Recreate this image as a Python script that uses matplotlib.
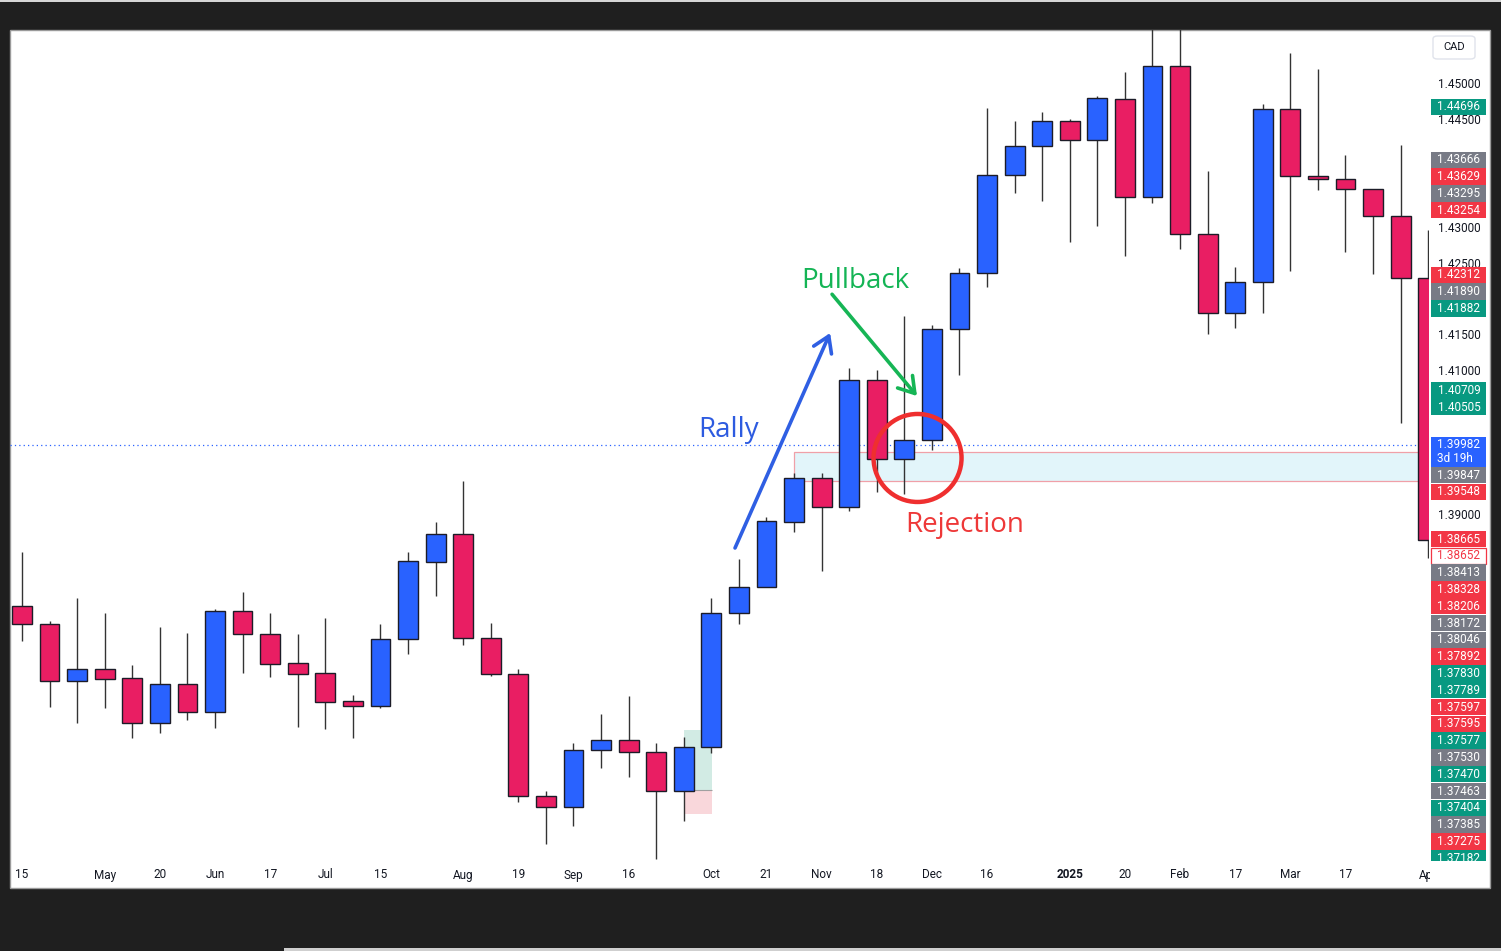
import matplotlib.pyplot as plt
import numpy as np
import pandas as pd
from matplotlib.patches import Rectangle, Ellipse, FancyBboxPatch
from matplotlib.transforms import Bbox, TransformedBbox, blended_transform_factory

# weekly USD/CAD candles, first week starts 2024-04-15
start_week = '2024-04-15'
opens = [1.3773, 1.3748, 1.3668, 1.3685, 1.3673, 1.3610, 1.3664, 1.3625, 1.3766, 1.3734,
         1.3694, 1.3680, 1.3641, 1.3634, 1.3727, 1.3834, 1.3873, 1.3728, 1.3678, 1.3508,
         1.3493, 1.3572, 1.3586, 1.3569, 1.3515, 1.3576, 1.3763, 1.3800, 1.3890, 1.3952,
         1.3911, 1.4088, 1.3978, 1.4005, 1.4160, 1.4238, 1.4374, 1.4415, 1.4450, 1.4423,
         1.4480, 1.4344, 1.4527, 1.4292, 1.4182, 1.4225, 1.4467, 1.4373, 1.4369, 1.4355,
         1.4317, 1.4231]
highs = [1.3848, 1.3752, 1.3784, 1.3763, 1.3691, 1.3744, 1.3735, 1.3769, 1.3793, 1.3763,
         1.3734, 1.3756, 1.3649, 1.3748, 1.3848, 1.3890, 1.3948, 1.3749, 1.3685, 1.3515,
         1.3582, 1.3622, 1.3648, 1.3582, 1.3590, 1.3784, 1.3839, 1.3897, 1.3959, 1.3959,
         1.4105, 1.4102, 1.4178, 1.4165, 1.4245, 1.4468, 1.4450, 1.4462, 1.4453, 1.4485,
         1.4518, 1.4604, 1.4793, 1.4380, 1.4246, 1.4474, 1.4545, 1.4522, 1.4402, 1.4355,
         1.4416, 1.4297]
lows = [1.3724, 1.3632, 1.3610, 1.3631, 1.3589, 1.3596, 1.3614, 1.3603, 1.3680, 1.3674,
        1.3604, 1.3601, 1.3589, 1.3631, 1.3706, 1.3787, 1.3719, 1.3676, 1.3500, 1.3441,
        1.3466, 1.3547, 1.3535, 1.3420, 1.3473, 1.3568, 1.3748, 1.3799, 1.3876, 1.3822,
        1.3906, 1.3932, 1.3929, 1.3991, 1.4095, 1.4218, 1.4349, 1.4338, 1.4281, 1.4303,
        1.4261, 1.4335, 1.4271, 1.4153, 1.4161, 1.4182, 1.4241, 1.4354, 1.4267, 1.4236,
        1.4028, 1.3840]
closes = [1.3748, 1.3668, 1.3685, 1.3671, 1.3610, 1.3664, 1.3625, 1.3766, 1.3734, 1.3692,
          1.3678, 1.3639, 1.3634, 1.3727, 1.3836, 1.3873, 1.3728, 1.3678, 1.3508, 1.3493,
          1.3572, 1.3586, 1.3569, 1.3515, 1.3576, 1.3763, 1.3800, 1.3892, 1.3952, 1.3911,
          1.4088, 1.3978, 1.4005, 1.4160, 1.4238, 1.4374, 1.4415, 1.4450, 1.4423, 1.4482,
          1.4344, 1.4527, 1.4292, 1.4182, 1.4225, 1.4467, 1.4373, 1.4369, 1.4355, 1.4317,
          1.4231, 1.3865]

tick_dates = ['2024-04-15', '2024-05-06', '2024-05-20', '2024-06-03', '2024-06-17', '2024-07-01',
              '2024-07-15', '2024-08-05', '2024-08-19', '2024-09-02', '2024-09-16', '2024-10-07',
              '2024-10-21', '2024-11-04', '2024-11-18', '2024-12-02', '2024-12-16', '2025-01-06',
              '2025-01-20', '2025-02-03', '2025-02-17', '2025-03-03', '2025-03-17', '2025-04-07']
tick_labels = ['15', 'May', '20', 'Jun', '17', 'Jul', '15', 'Aug', '19', 'Sep', '16', 'Oct',
               '21', 'Nov', '18', 'Dec', '16', '2025', '20', 'Feb', '17', 'Mar', '17', 'Apr']

# price scale labels on the right
axis_values = [1.44696, 1.43666, 1.43629, 1.43295, 1.43254, 1.42312, 1.41890, 1.41882,
               1.40709, 1.40505, 1.39847, 1.39548, 1.38665, 1.38652, 1.38413, 1.38328,
               1.38206, 1.38172, 1.38046, 1.37892, 1.37830, 1.37789, 1.37597, 1.37595,
               1.37577, 1.37530, 1.37470, 1.37463, 1.37404, 1.37385, 1.37275, 1.37182]
axis_kinds = ['g', 'n', 'r', 'n', 'r', 'r', 'n', 'g', 'g', 'g', 'n', 'r', 'r', 'w', 'n', 'r',
              'r', 'n', 'n', 'r', 'g', 'g', 'r', 'r', 'g', 'n', 'g', 'n', 'g', 'n', 'r', 'g']
current_price = 1.39982
countdown = '3d 19h'

zone_low, zone_high = 1.3947, 1.3988          # support box
pos_entry, pos_target, pos_stop = 1.3516, 1.3600, 1.3483

BLUE = '#2962ff'
RED = '#e91e63'
kind_colors = {'g': '#089981', 'r': '#f23645', 'n': '#787b86', 'w': 'white'}

W, H = 1501, 951
fig = plt.figure(figsize=(W / 100, H / 100), dpi=100, facecolor='#1f1f1f')


def fx(x):
    return x / W


def fy(y):
    return 1 - y / H


# frame bits
fig.patches.append(Rectangle((0, fy(2)), 1, 2 / H, transform=fig.transFigure,
                             fc='#d6d6d6', ec='none', zorder=-2))
fig.patches.append(Rectangle((fx(284), 0), 1, 3 / H, transform=fig.transFigure,
                             fc='#cfcfcf', ec='none', zorder=-2))
fig.patches.append(Rectangle((fx(10), fy(888)), fx(1490) - fx(10), fy(30) - fy(888),
                             transform=fig.transFigure, fc='white', ec='#9a9a9a', lw=1, zorder=-1))

y_top, y_bot = 1.45767, 1.34173
ax = fig.add_axes([fx(10), fy(861), fx(1429) - fx(10), fy(30) - fy(861)])
ax.set_xlim(-0.435, 51.03)
ax.set_ylim(y_bot, y_top)
ax.axis('off')
ppx = (y_top - y_bot) / 831

# candles
idx = np.arange(len(opens))
o = np.array(opens); c = np.array(closes)
cols = [BLUE if cc >= oo else RED for oo, cc in zip(o, c)]
ax.vlines(idx, lows, highs, color='#333333', lw=1.0, zorder=3)
ax.bar(idx, np.maximum(np.abs(c - o), 0.0002), bottom=np.minimum(o, c), width=0.72,
       color=cols, edgecolor='#1c1c28', linewidth=1.0, zorder=4)

# zone and current price line
ax.add_patch(Rectangle((28, zone_low), 40, zone_high - zone_low, fc='#e2f5fa',
                       ec='#f0a0a8', lw=0.9, zorder=1))
ax.axhline(current_price, color=BLUE, lw=0.9, ls=(0, (1, 2.5)), zorder=2)

# long position tool
ax.add_patch(Rectangle((24, pos_entry), 1.03, pos_target - pos_entry, fc='#d2ebe4', ec='none', zorder=1))
ax.add_patch(Rectangle((24, pos_stop), 1.03, pos_entry - pos_stop, fc='#f9d7db', ec='none', zorder=1))
ax.hlines(pos_entry, 24, 25.03, color='#a0a0a0', lw=0.8, zorder=1)

# annotations
ax.annotate('', xy=(29.31, 1.4154), xytext=(25.86, 1.3854),
            arrowprops=dict(arrowstyle='->,head_length=0.55,head_width=0.35', color='#2f5fe3',
                            lw=2.6, mutation_scale=20, shrinkA=0, shrinkB=0), zorder=6)
ax.annotate('', xy=(32.46, 1.4066), xytext=(29.38, 1.4208),
            arrowprops=dict(arrowstyle='->,head_length=0.55,head_width=0.35', color='#16b555',
                            lw=2.6, mutation_scale=20, shrinkA=0, shrinkB=0), zorder=6)
ax.add_patch(Ellipse((32.48, 1.39796), 88 / 27.57, 88 * ppx, fill=False,
                     ec='#ef2f2f', lw=3.2, zorder=6))
font = 'Open Sans'
ax.text(25.61, 1.40186, 'Rally', color='#2d5be0', fontsize=20, family=font, ha='center', va='center', zorder=7)
ax.text(30.21, 1.42265, 'Pullback', color='#14b455', fontsize=20, family=font, ha='center', va='center', zorder=7)
ax.text(34.2, 1.38861, 'Rejection', color='#ee3838', fontsize=20, family=font, ha='center', va='center', zorder=7)

# time axis labels
t0 = pd.Timestamp(start_week)
trans = blended_transform_factory(ax.transData, fig.transFigure)
clip = TransformedBbox(Bbox([[fx(10), 0], [fx(1430), 1]]), fig.transFigure)
for d, lab in zip(tick_dates, tick_labels):
    i = (pd.Timestamp(d) - t0).days // 7
    t = ax.text(i, fy(875), lab, transform=trans, ha='center', va='center', fontsize=8.5,
                family='Roboto', color='#131722', fontweight='bold' if lab == '2025' else 'normal')
    t.set_clip_box(clip)
    t.set_clip_on(True)

# price axis
pax = fig.add_axes([fx(1429), fy(861), fx(1490) - fx(1429), fy(30) - fy(861)])
pax.set_xlim(0, 1)
pax.set_ylim(y_bot, y_top)
pax.axis('off')

# stack the coloured labels away from the live price box
step = 16.8 * ppx
bh = 16.4 * ppx
pos = {}
lim = current_price + 16.5 * ppx
for k in sorted([k for k, v in enumerate(axis_values) if v > current_price], key=lambda k: axis_values[k]):
    p = max(axis_values[k], lim)
    pos[k] = p
    lim = p + step
lim = current_price - 30.5 * ppx
for k in sorted([k for k, v in enumerate(axis_values) if v < current_price], key=lambda k: -axis_values[k]):
    p = min(axis_values[k], lim)
    pos[k] = p
    lim = p - step

# plain ticks, skipped where a label box sits on them
for v in np.arange(1.345, 1.4501, 0.005):
    hidden = any(abs(v - p) < 9 * ppx for p in pos.values())
    hidden = hidden or (current_price - 26 * ppx < v < current_price + 12 * ppx)
    if hidden or v < y_bot + 6 * ppx:
        continue
    pax.text(0.49, v, f'{v:.5f}', ha='center', va='center', fontsize=8.5, family='Roboto',
             color='#131722', zorder=1)

for k, v in enumerate(axis_values):
    kind = axis_kinds[k]
    fc = kind_colors[kind]
    ec = '#f23645' if kind == 'w' else 'none'
    tc = '#f23645' if kind == 'w' else 'white'
    pax.add_patch(Rectangle((0.033, pos[k] - bh / 2), 0.9, bh, fc=fc, ec=ec, lw=0.9, zorder=3))
    pax.text(0.49, pos[k], f'{v:.5f}', ha='center', va='center', fontsize=8.5, family='Roboto',
             color=tc, zorder=4, clip_on=True)

pax.add_patch(Rectangle((0.033, current_price - 22 * ppx), 0.9, 30 * ppx, fc=BLUE, ec='none', zorder=3))
pax.text(0.49, current_price, f'{current_price:.5f}', ha='center', va='center', fontsize=8.5,
         family='Roboto', color='white', zorder=4)
pax.text(0.42, current_price - 14 * ppx, countdown, ha='center', va='center', fontsize=8.5,
         family='Roboto', color='white', zorder=4)

# currency box
fig.patches.append(FancyBboxPatch((fx(1433), fy(59)), fx(1475) - fx(1433), fy(36) - fy(59),
                                  boxstyle='round,pad=0,rounding_size=0.003', transform=fig.transFigure,
                                  fc='white', ec='#e0e3eb', lw=1, zorder=5))
fig.text(fx(1454), fy(47.5), 'CAD', ha='center', va='center', fontsize=8, family='Roboto',
         color='#131722', zorder=6)

fig.savefig('out.png', dpi=100, facecolor=fig.get_facecolor())
